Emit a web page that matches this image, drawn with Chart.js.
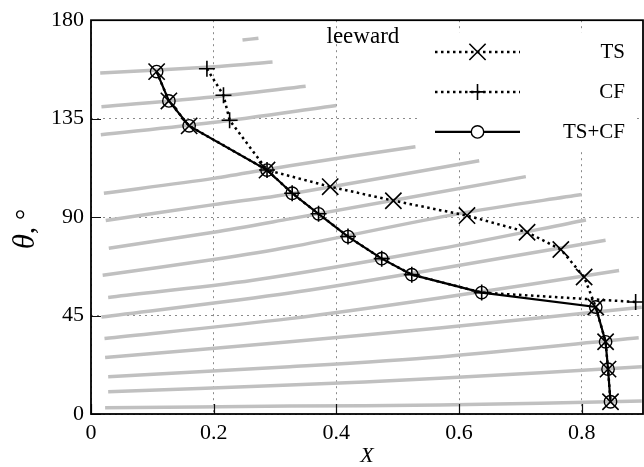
<!DOCTYPE html>
<html>
<head>
<meta charset="utf-8">
<script src="https://cdn.jsdelivr.net/npm/chart.js@4.4.0/dist/chart.umd.min.js"></script>
<style>
  html, body { margin: 0; padding: 0; background: #fff; }
  #chart1 { display: block; }
</style>
</head>
<body>
<canvas id="chart1" width="644" height="467"></canvas>
<script>
const xTicks = [0, 0.2, 0.4, 0.6, 0.8];
const yTicks = [0, 45, 90, 135, 180];

// TS
const tsX = [0.107, 0.127, 0.160, 0.287, 0.390, 0.493, 0.613, 0.711, 0.766, 0.804, 0.823, 0.839, 0.843, 0.847];
const tsY = [156.5, 143.1, 131.7, 111.5, 103.9, 97.5, 90.7, 83.1, 75.2, 62.6, 48.9, 33.0, 20.5, 5.6];

// CF
const cfX = [0.189, 0.216, 0.226, 0.287, 0.328, 0.371, 0.419, 0.474, 0.523, 0.637, 0.888];
const cfY = [157.8, 145.7, 134.3, 111.5, 100.9, 91.5, 81.1, 71.0, 63.7, 55.5, 51.2];

// TS+CF
const sumX = [0.107, 0.127, 0.160, 0.287, 0.328, 0.371, 0.419, 0.474, 0.523, 0.637, 0.823, 0.839, 0.843, 0.847];
const sumY = [156.5, 143.1, 131.7, 111.5, 100.9, 91.5, 81.1, 71.0, 63.7, 55.5, 48.9, 33.0, 20.5, 5.6];

// grey streaks in the background, [X, theta] pairs
const streaks = [
  [[0.247, 170.9], [0.273, 171.8]],
  [[0.015, 155.9], [0.188, 158.5], [0.296, 160.9]],
  [[0.017, 140.4], [0.198, 144.9], [0.350, 149.8]],
  [[0.016, 127.6], [0.198, 133.2], [0.400, 141.0]],
  [[0.021, 100.9], [0.200, 107.7], [0.324, 113.5], [0.529, 122.2]],
  [[0.024, 88.4], [0.200, 95.7], [0.324, 100.6], [0.633, 115.8]],
  [[0.029, 75.8], [0.200, 83.1], [0.324, 89.2], [0.709, 108.5]],
  [[0.019, 63.4], [0.200, 70.6], [0.324, 76.3], [0.600, 91.6], [0.800, 100.3]],
  [[0.028, 53.3], [0.264, 61.1], [0.568, 75.5], [0.807, 88.7]],
  [[0.017, 44.3], [0.324, 55.3], [0.568, 66.4], [0.839, 79.4]],
  [[0.022, 34.5], [0.324, 43.6], [0.568, 53.0], [0.861, 65.6]],
  [[0.023, 25.8], [0.324, 33.0], [0.568, 39.3], [0.898, 48.8]],
  [[0.028, 17.0], [0.324, 21.6], [0.568, 26.1], [0.893, 34.8]],
  [[0.028, 10.2], [0.324, 13.2], [0.568, 16.3], [0.898, 21.6]],
  [[0.023, 2.9], [0.324, 3.6], [0.568, 4.1], [0.898, 5.9]]
];

const serif = "'Liberation Serif', 'DejaVu Serif', serif";
const pts = (xs, ys) => xs.map((x, i) => ({x: x, y: ys[i]}));

const datasets = [
  {
    label: 'TS',
    data: pts(tsX, tsY),
    borderColor: '#000',
    borderWidth: 2.5,
    borderDash: [2.5, 3.5],
    pointStyle: 'crossRot',
    pointRadius: 11.5,
    pointBorderWidth: 1.6,
    pointBorderColor: '#000',
    pointBackgroundColor: 'rgba(0,0,0,0)'
  },
  {
    label: 'CF',
    data: pts(cfX, cfY),
    borderColor: '#000',
    borderWidth: 2.5,
    borderDash: [2.5, 3.5],
    pointStyle: 'cross',
    pointRadius: 8,
    pointBorderWidth: 1.6,
    pointBorderColor: '#000',
    pointBackgroundColor: 'rgba(0,0,0,0)'
  },
  {
    label: 'TS+CF',
    data: pts(sumX, sumY),
    borderColor: '#000',
    borderWidth: 2.2,
    pointStyle: 'circle',
    pointRadius: 6.2,
    pointBorderWidth: 1.4,
    pointBorderColor: '#000',
    pointBackgroundColor: 'rgba(0,0,0,0)'
  }
];

streaks.forEach(s => {
  datasets.push({
    data: s.map(p => ({x: p[0], y: p[1]})),
    borderColor: '#c0c0c0',
    borderWidth: 3.5,
    pointRadius: 0,
    tension: 0.3,
    order: 10
  });
});

// key in the upper right corner, drawn by hand so the marker sits mid-line
const sideKey = {
  id: 'sideKey',
  afterDatasetsDraw(chart) {
    const {ctx, chartArea: a} = chart;
    ctx.save();
    ctx.fillStyle = '#fff';
    ctx.fillRect(a.right - 226, a.top + 12, 216, 119);
    chart.data.datasets.filter(d => d.label).forEach((d, i) => {
      const y = a.top + 31.7 + i * 40;
      ctx.strokeStyle = '#000';
      ctx.lineWidth = d.borderWidth;
      ctx.setLineDash(d.borderDash || []);
      ctx.beginPath();
      ctx.moveTo(a.right - 208, y);
      ctx.lineTo(a.right - 123, y);
      ctx.stroke();
      ctx.setLineDash([]);
      ctx.fillStyle = '#fff';
      ctx.lineWidth = d.pointBorderWidth;
      Chart.helpers.drawPoint(ctx, {
        pointStyle: d.pointStyle, radius: d.pointRadius, rotation: 0, borderWidth: d.pointBorderWidth
      }, a.right - 165.5, y);
      ctx.fillStyle = '#000';
      ctx.font = '21px ' + serif;
      ctx.textAlign = 'right';
      ctx.textBaseline = 'middle';
      ctx.fillText(d.label, a.right - 18, y + 1);
    });
    ctx.restore();
  },
  afterDraw(chart) {
    const {ctx, chartArea: a, scales} = chart;
    ctx.save();
    // inward ticks
    ctx.strokeStyle = '#111';
    ctx.lineWidth = 1.2;
    ctx.beginPath();
    yTicks.forEach(v => {
      const py = Math.round(scales.y.getPixelForValue(v)) + 0.5;
      ctx.moveTo(a.left, py);
      ctx.lineTo(a.left + 10, py);
    });
    xTicks.forEach(v => {
      const px = Math.round(scales.x.getPixelForValue(v)) + 0.5;
      ctx.moveTo(px, a.bottom);
      ctx.lineTo(px, a.bottom - 10);
    });
    ctx.stroke();
    // frame
    ctx.strokeStyle = '#000';
    ctx.lineWidth = 1.8;
    ctx.strokeRect(a.left, a.top, a.right - a.left, a.bottom - a.top);
    // note
    ctx.fillStyle = '#000';
    ctx.font = '23px ' + serif;
    ctx.textAlign = 'left';
    ctx.textBaseline = 'alphabetic';
    ctx.fillText('leeward', scales.x.getPixelForValue(0.384), a.top + 23);
    // y axis title: italic theta, upright ", °"
    ctx.translate(34, (a.top + a.bottom) / 2 + 12);
    ctx.rotate(-Math.PI / 2);
    ctx.font = 'italic 31px ' + serif;
    const w1 = ctx.measureText('θ').width;
    ctx.font = '28px ' + serif;
    const w2 = ctx.measureText(', °').width;
    let x0 = -(w1 + w2) / 2;
    ctx.font = 'italic 31px ' + serif;
    ctx.fillText('θ', x0, 0);
    ctx.font = '28px ' + serif;
    ctx.fillText(', °', x0 + w1, 0);
    ctx.restore();
  }
};

new Chart(document.getElementById('chart1'), {
  type: 'scatter',
  data: { datasets: datasets },
  options: {
    responsive: false,
    animation: false,
    events: [],
    showLine: true,
    layout: { autoPadding: false, padding: { top: 19, right: 1, left: 0, bottom: 0 } },
    scales: {
      x: {
        type: 'linear',
        min: 0,
        max: 0.9,
        afterFit: axis => { axis.height = 53; },
        afterBuildTicks: axis => { axis.ticks = xTicks.map(v => ({value: v})); },
        ticks: {
          padding: 6,
          color: '#000',
          font: { family: serif, size: 22 },
          callback: v => String(v)
        },
        grid: { color: '#8a8a8a', lineWidth: 1, drawTicks: false },
        border: { display: false, dash: [2, 4] },
        title: {
          display: true,
          text: 'X',
          color: '#000',
          font: { family: serif, size: 22, style: 'italic', lineHeight: 1 },
          padding: { top: 0, bottom: 0 }
        }
      },
      y: {
        type: 'linear',
        min: 0,
        max: 180,
        afterFit: axis => { axis.width = 91; },
        afterBuildTicks: axis => { axis.ticks = yTicks.map(v => ({value: v})); },
        ticks: {
          padding: 7,
          color: '#000',
          font: { family: serif, size: 22 },
          callback: v => String(v)
        },
        grid: { color: '#8a8a8a', lineWidth: 1, drawTicks: false },
        border: { display: false, dash: [2, 4] }
      }
    },
    plugins: {
      legend: { display: false },
      tooltip: { enabled: false }
    }
  },
  plugins: [sideKey]
});
</script>
</body>
</html>
